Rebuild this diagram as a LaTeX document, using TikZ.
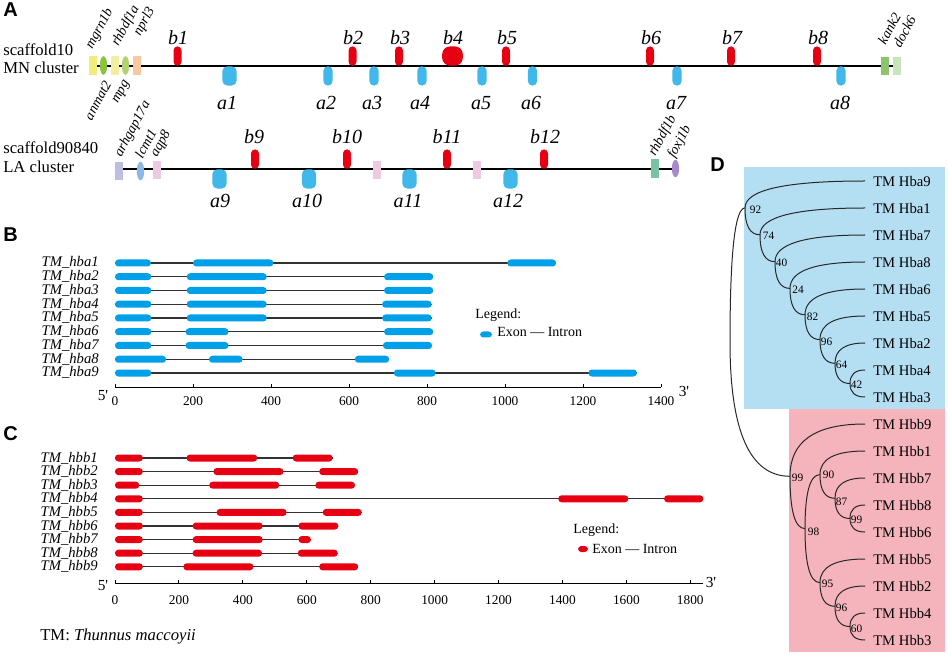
\documentclass[tikz,border=0pt]{standalone}
\usepackage{fontspec}
\setmainfont{Liberation Serif}
\newfontfamily\panelfont{Liberation Sans}
\usetikzlibrary{calc,shapes.geometric}

\definecolor{GeneRed}{RGB}{230,0,18}
\definecolor{GeneBlue}{RGB}{64,184,234}
\definecolor{ExonBlue}{RGB}{0,160,233}
\definecolor{IntronGrey}{RGB}{50,50,50}
\definecolor{TreeGrey}{RGB}{40,40,40}
\definecolor{TreeBlue}{RGB}{180,223,243}
\definecolor{TreePink}{RGB}{245,180,188}
\definecolor{MgrnCol}{RGB}{240,238,120}
\definecolor{AnmatCol}{RGB}{140,195,60}
\definecolor{RhbdfaCol}{RGB}{242,240,160}
\definecolor{MpgCol}{RGB}{180,210,110}
\definecolor{NprlCol}{RGB}{248,200,160}
\definecolor{KankCol}{RGB}{140,195,110}
\definecolor{DockCol}{RGB}{200,228,185}
\definecolor{ArhgapCol}{RGB}{190,190,225}
\definecolor{LcmtCol}{RGB}{140,185,230}
\definecolor{AqpCol}{RGB}{238,202,226}
\definecolor{RhbdfbCol}{RGB}{120,195,165}
\definecolor{FoxjCol}{RGB}{165,140,200}

\tikzset{
  scaffold/.style={draw=black, line width=0.9pt},
  redgene/.style={fill=GeneRed, draw=none, inner sep=0pt, minimum width=6pt, minimum height=14.5pt, rounded corners=3pt, anchor=south},
  bluegene/.style={fill=GeneBlue, draw=none, inner sep=0pt, minimum width=7pt, minimum height=14.5pt, rounded corners=3.4pt, anchor=north},
  widegene/.style={bluegene, minimum width=10.8pt, rounded corners=3.8pt},
  sidebox/.style={draw=none, inner sep=0pt, minimum width=6pt, minimum height=14pt},
  sideoval/.style={ellipse, draw=none, inner sep=0pt, minimum width=5.5pt, minimum height=14pt},
  genelab/.style={font=\fontsize{10.5}{11}\selectfont\itshape, rotate=62, inner sep=0.5pt},
  genename/.style={font=\fontsize{15}{15}\selectfont\itshape, inner sep=0pt, anchor=base},
  clustertext/.style={font=\fontsize{12.5}{13}\selectfont, inner sep=0pt, anchor=base west},
  panel/.style={font=\fontsize{15}{15}\panelfont\bfseries, inner sep=0pt, anchor=base west},
  rowlab/.style={font=\fontsize{11}{11}\selectfont\itshape, inner sep=0pt, anchor=base east},
  ticklab/.style={font=\fontsize{10}{10}\selectfont, inner sep=0pt, anchor=base},
  legtext/.style={font=\fontsize{10.5}{11}\selectfont, inner sep=0pt, anchor=base west},
  intron/.style={draw=IntronGrey, line width=0.8pt},
  axisline/.style={draw=black, line width=0.75pt},
  exonA/.style={fill=ExonBlue, rounded corners=2.5pt},
  exonB/.style={fill=GeneRed, rounded corners=2.5pt},
  treeline/.style={draw=TreeGrey, line width=0.75pt},
  leaf/.style={font=\fontsize{11}{11}\selectfont, anchor=west, inner xsep=6pt, inner ysep=0pt},
  boot/.style={font=\fontsize{8.5}{9}\selectfont, anchor=west, inner sep=0.5pt},
}

% curved cladogram branch: leaves parent vertically, meets child horizontally
\newcommand{\treebranch}[2]{\draw[treeline] (#1) .. controls ($(#1)!0.667!(#1 |- #2)$) and ($(#2)!0.667!(#1 |- #2)$) .. (#2);}

\begin{document}
\begin{tikzpicture}[x=0.75pt,y=0.75pt,yscale=-1,xscale=1]
\useasboundingbox (0,0) rectangle (948,655);

% ---------------- Panel A ----------------
\node[panel] (labA) at (3,17) {A};

% scaffold10
\node[clustertext] (s10name) at (3,56) {scaffold10};
\node[clustertext] (s10clus) at (3,74) {MN cluster};
\coordinate (s10start) at (89,66);
\coordinate (s10end) at (893,66);
\draw[scaffold] (s10start) -- (s10end);

% flanking genes
\node[sidebox, fill=MgrnCol] (mgrn1b) at (93,65.5) {};
\node[sideoval, fill=AnmatCol] (anmat2) at (103.5,65.5) {};
\node[sidebox, fill=RhbdfaCol] (rhbdf1a) at (114.5,65.5) {};
\node[sideoval, fill=MpgCol] (mpg) at (125.5,65.5) {};
\node[sidebox, fill=NprlCol] (nprl3) at (136.5,65.5) {};
\node[sidebox, fill=KankCol] (kank2) at (884.5,66) {};
\node[sidebox, fill=DockCol] (dock6) at (897,66) {};

% Text Node
\node[genelab, anchor=west] (mgrn1blab) at (89,49) {mgrn1b};
\node[genelab, anchor=west] (rhbdf1alab) at (115,46) {rhbdf1a};
\node[genelab, anchor=west] (nprl3lab) at (137,36) {nprl3};
\node[genelab, anchor=east] (anmat2lab) at (108,81) {anmat2};
\node[genelab, anchor=east] (mpglab) at (128,81) {mpg};
\node[genelab, anchor=west] (kank2lab) at (881,44) {kank2};
\node[genelab, anchor=west] (dock6lab) at (896,47) {dock6};

% beta genes (above)
\node[redgene] (b1) at (177.5,66) {};
\node[redgene] (b2) at (352.5,66) {};
\node[redgene] (b3) at (399,66) {};
\node[redgene, minimum width=15.5pt, rounded corners=6pt] (b4) at (452.5,66) {};
\node[redgene] (b5) at (506,66) {};
\node[redgene] (b6) at (650,66) {};
\node[redgene] (b7) at (731,66) {};
\node[redgene] (b8) at (817,66) {};
% alpha genes (below)
\node[widegene] (a1) at (229.5,66) {};
\node[bluegene] (a2) at (328,66) {};
\node[bluegene] (a3) at (374,66) {};
\node[bluegene] (a4) at (422,66) {};
\node[bluegene] (a5) at (482,66) {};
\node[bluegene] (a6) at (532.5,66) {};
\node[bluegene] (a7) at (677,66) {};
\node[bluegene] (a8) at (841,66) {};

% Text Node
\node[genename] (b1lab) at (178,45) {b1};
\node[genename] (b2lab) at (353,45) {b2};
\node[genename] (b3lab) at (400,45) {b3};
\node[genename] (b4lab) at (453,45) {b4};
\node[genename] (b5lab) at (507,45) {b5};
\node[genename] (b6lab) at (651,45) {b6};
\node[genename] (b7lab) at (732,45) {b7};
\node[genename] (b8lab) at (818,45) {b8};
\node[genename] (a1lab) at (227,110) {a1};
\node[genename] (a2lab) at (326,110) {a2};
\node[genename] (a3lab) at (372,110) {a3};
\node[genename] (a4lab) at (420,110) {a4};
\node[genename] (a5lab) at (481,110) {a5};
\node[genename] (a6lab) at (531,110) {a6};
\node[genename] (a7lab) at (676,110) {a7};
\node[genename] (a8lab) at (840,110) {a8};

% scaffold90840
\node[clustertext] (s90name) at (3,154) {scaffold90840};
\node[clustertext] (s90clus) at (3,173) {LA cluster};
\coordinate (s90start) at (117,169);
\coordinate (s90end) at (676,169);
\draw[scaffold] (s90start) -- (s90end);

\node[sidebox, fill=ArhgapCol] (arhgap17a) at (118.5,171) {};
\node[sideoval, fill=LcmtCol] (lcmt1) at (140.5,171) {};
\node[sidebox, fill=AqpCol] (aqp8) at (157,170) {};
\node[sidebox, fill=AqpCol] (pinkone) at (377,170) {};
\node[sidebox, fill=AqpCol] (pinktwo) at (477,170) {};
\node[sidebox, fill=RhbdfbCol] (rhbdf1b) at (654.5,168.5) {};
\node[sideoval, fill=FoxjCol, minimum height=13pt] (foxj1b) at (675.5,168.5) {};

% Text Node
\node[genelab, anchor=west] (arhgap17alab) at (118,157) {arhgap17a};
\node[genelab, anchor=west] (lcmt1lab) at (138,158) {lcmt1};
\node[genelab, anchor=west] (aqp8lab) at (154,157) {aqp8};
\node[genelab, anchor=west] (rhbdf1blab) at (652,156) {rhbdf1b};
\node[genelab, anchor=west] (foxj1blab) at (671,158) {foxj1b};

\node[redgene] (b9) at (255,169) {};
\node[redgene] (b10) at (347,169) {};
\node[redgene] (b11) at (447,169) {};
\node[redgene] (b12) at (544,169) {};
\node[widegene] (a9) at (219.5,169) {};
\node[widegene] (a10) at (309,169) {};
\node[widegene] (a11) at (409.5,169) {};
\node[widegene] (a12) at (510.5,169) {};

% Text Node
\node[genename] (b9lab) at (254,144) {b9};
\node[genename] (b10lab) at (347,144) {b10};
\node[genename] (b11lab) at (447,144) {b11};
\node[genename] (b12lab) at (545,144) {b12};
\node[genename] (a9lab) at (220,208) {a9};
\node[genename] (a10lab) at (307,208) {a10};
\node[genename] (a11lab) at (408,208) {a11};
\node[genename] (a12lab) at (508,208) {a12};

% ---------------- Panel B ----------------
\node[panel] (labB) at (3,242) {B};

\node[rowlab] (hba1lab) at (99,267) {TM\_hba1};
\node[rowlab] (hba2lab) at (99,280.75) {TM\_hba2};
\node[rowlab] (hba3lab) at (99,294.5) {TM\_hba3};
\node[rowlab] (hba4lab) at (99,308.25) {TM\_hba4};
\node[rowlab] (hba5lab) at (99,322) {TM\_hba5};
\node[rowlab] (hba6lab) at (99,335.75) {TM\_hba6};
\node[rowlab] (hba7lab) at (99,349.5) {TM\_hba7};
\node[rowlab] (hba8lab) at (99,363.25) {TM\_hba8};
\node[rowlab] (hba9lab) at (99,377) {TM\_hba9};

\begin{scope}[shift={(115,0)}, xscale=0.39]
  %Straight Lines: introns
  \draw[intron] (0,263) -- (1131,263);
  \draw[intron] (0,276.75) -- (816,276.75);
  \draw[intron] (0,290.5) -- (816,290.5);
  \draw[intron] (0,304.25) -- (812,304.25);
  \draw[intron] (0,318) -- (812,318);
  \draw[intron] (0,331.75) -- (816,331.75);
  \draw[intron] (0,345.5) -- (813,345.5);
  \draw[intron] (0,359.25) -- (703,359.25);
  \draw[intron] (0,373) -- (1338,373);
  %Shapes: exons
  \fill[exonA] (0,259.5) rectangle (92,266.5) (200,259.5) rectangle (406,266.5) (1006,259.5) rectangle (1131,266.5);
  \fill[exonA] (0,273.25) rectangle (93,280.25) (184,273.25) rectangle (389,280.25) (690,273.25) rectangle (816,280.25);
  \fill[exonA] (0,287) rectangle (93,294) (184,287) rectangle (389,294) (690,287) rectangle (816,294);
  \fill[exonA] (0,300.75) rectangle (93,307.75) (184,300.75) rectangle (389,307.75) (685,300.75) rectangle (812,307.75);
  \fill[exonA] (0,314.5) rectangle (93,321.5) (184,314.5) rectangle (389,321.5) (685,314.5) rectangle (812,321.5);
  \fill[exonA] (0,328.25) rectangle (93,335.25) (181,328.25) rectangle (291,335.25) (690,328.25) rectangle (816,335.25);
  \fill[exonA] (0,342) rectangle (93,349) (181,342) rectangle (291,349) (687,342) rectangle (813,349);
  \fill[exonA] (0,355.75) rectangle (131,362.75) (241,355.75) rectangle (327,362.75) (615,355.75) rectangle (703,362.75);
  \fill[exonA] (0,369.5) rectangle (93,376.5) (715,369.5) rectangle (822,376.5) (1214,369.5) rectangle (1338,376.5);
  %Axis
  \draw[axisline] (0,387) -- (1400,387) (0,387) -- (0,384) (200,387) -- (200,384) (400,387) -- (400,384) (600,387) -- (600,384) (800,387) -- (800,384) (1000,387) -- (1000,384) (1200,387) -- (1200,384) (1400,387) -- (1400,384);
  % Text Node
  \node[ticklab] (tB0) at (0,405.5) {0};
  \node[ticklab] (tB200) at (200,405.5) {200};
  \node[ticklab] (tB400) at (400,405.5) {400};
  \node[ticklab] (tB600) at (600,405.5) {600};
  \node[ticklab] (tB800) at (800,405.5) {800};
  \node[ticklab] (tB1000) at (1000,405.5) {1000};
  \node[ticklab] (tB1200) at (1200,405.5) {1200};
  \node[ticklab] (tB1400) at (1400,405.5) {1400};
\end{scope}
\node[ticklab, font=\fontsize{11.5}{12}\selectfont] (fiveB) at (103,400) {5\textquotesingle};
\node[ticklab, font=\fontsize{11.5}{12}\selectfont] (threeB) at (684,397) {3\textquotesingle};

% legend B
\node[legtext] (legB) at (475,319) {Legend:};
\fill[exonA] (480,331.5) rectangle (492,337.5);
\node[legtext] (legBkey) at (497,337) {Exon --- Intron};

% ---------------- Panel C ----------------
\node[panel] (labC) at (3,440) {C};

\node[rowlab] (hbb1lab) at (98,462) {TM\_hbb1};
\node[rowlab] (hbb2lab) at (98,475.6) {TM\_hbb2};
\node[rowlab] (hbb3lab) at (98,489.2) {TM\_hbb3};
\node[rowlab] (hbb4lab) at (98,502.8) {TM\_hbb4};
\node[rowlab] (hbb5lab) at (98,516.4) {TM\_hbb5};
\node[rowlab] (hbb6lab) at (98,530) {TM\_hbb6};
\node[rowlab] (hbb7lab) at (98,543.6) {TM\_hbb7};
\node[rowlab] (hbb8lab) at (98,557.2) {TM\_hbb8};
\node[rowlab] (hbb9lab) at (98,570.8) {TM\_hbb9};

\begin{scope}[shift={(115,0)}, xscale=0.3196]
  %Straight Lines: introns
  \draw[intron] (0,458) -- (681,458);
  \draw[intron] (0,471.6) -- (761,471.6);
  \draw[intron] (0,485.2) -- (751,485.2);
  \draw[intron] (0,498.8) -- (1841,498.8);
  \draw[intron] (0,512.4) -- (772,512.4);
  \draw[intron] (0,526) -- (699,526);
  \draw[intron] (0,539.6) -- (613,539.6);
  \draw[intron] (0,553.2) -- (697,553.2);
  \draw[intron] (0,566.8) -- (761,566.8);
  %Shapes: exons
  \fill[exonB] (0,454.5) rectangle (87,461.5) (224,454.5) rectangle (445,461.5) (556,454.5) rectangle (681,461.5);
  \fill[exonB] (0,468.1) rectangle (87,475.1) (308,468.1) rectangle (527,475.1) (639,468.1) rectangle (761,475.1);
  \fill[exonB] (0,481.7) rectangle (76,488.7) (295,481.7) rectangle (514,488.7) (627,481.7) rectangle (751,488.7);
  \fill[exonB] (0,495.3) rectangle (87,502.3) (1387,495.3) rectangle (1606,502.3) (1718,495.3) rectangle (1841,502.3);
  \fill[exonB] (0,508.9) rectangle (87,515.9) (318,508.9) rectangle (537,515.9) (650,508.9) rectangle (772,515.9);
  \fill[exonB] (0,522.5) rectangle (87,529.5) (243,522.5) rectangle (462,529.5) (574,522.5) rectangle (699,529.5);
  \fill[exonB] (0,536.1) rectangle (87,543.1) (243,536.1) rectangle (462,543.1) (574,536.1) rectangle (613,543.1);
  \fill[exonB] (0,549.7) rectangle (87,556.7) (243,549.7) rectangle (460,556.7) (572,549.7) rectangle (697,556.7);
  \fill[exonB] (0,563.3) rectangle (87,570.3) (214,563.3) rectangle (433,570.3) (639,563.3) rectangle (761,570.3);
  %Axis
  \draw[axisline] (0,583) -- (1840,583) (0,583) -- (0,580) (200,583) -- (200,580) (400,583) -- (400,580) (600,583) -- (600,580) (800,583) -- (800,580) (1000,583) -- (1000,580) (1200,583) -- (1200,580) (1400,583) -- (1400,580) (1600,583) -- (1600,580) (1800,583) -- (1800,580);
  % Text Node
  \node[ticklab] (tC0) at (0,604) {0};
  \node[ticklab] (tC200) at (200,604) {200};
  \node[ticklab] (tC400) at (400,604) {400};
  \node[ticklab] (tC600) at (600,604) {600};
  \node[ticklab] (tC800) at (800,604) {800};
  \node[ticklab] (tC1000) at (1000,604) {1000};
  \node[ticklab] (tC1200) at (1200,604) {1200};
  \node[ticklab] (tC1400) at (1400,604) {1400};
  \node[ticklab] (tC1600) at (1600,604) {1600};
  \node[ticklab] (tC1800) at (1800,604) {1800};
\end{scope}
\node[ticklab, font=\fontsize{11.5}{12}\selectfont] (fiveC) at (103,590) {5\textquotesingle};
\node[ticklab, font=\fontsize{11.5}{12}\selectfont] (threeC) at (711,587) {3\textquotesingle};

% legend C
\node[legtext] (legC) at (573,533) {Legend:};
\fill[exonB] (578,546) rectangle (588,552);
\node[legtext] (legCkey) at (592,553) {Exon --- Intron};

% species note
\node[clustertext] (species) at (40,640) {TM: \textit{Thunnus maccoyii}};

% ---------------- Panel D ----------------
\node[panel] (labD) at (710,172) {D};
\fill[TreeBlue] (744,167) rectangle (945,409);
\fill[TreePink] (789,409) rectangle (945,652);

% leaves
\node[leaf] (hba9) at (865,181) {TM Hba9};
\node[leaf] (hba1) at (865,208) {TM Hba1};
\node[leaf] (hba7) at (865,235) {TM Hba7};
\node[leaf] (hba8) at (865,262) {TM Hba8};
\node[leaf] (hba6) at (865,289) {TM Hba6};
\node[leaf] (hba5) at (865,316) {TM Hba5};
\node[leaf] (hba2) at (865,343) {TM Hba2};
\node[leaf] (hba4) at (865,370) {TM Hba4};
\node[leaf] (hba3) at (865,397) {TM Hba3};
\node[leaf] (hbb9) at (865,424) {TM Hbb9};
\node[leaf] (hbb1) at (865,451) {TM Hbb1};
\node[leaf] (hbb7) at (865,478) {TM Hbb7};
\node[leaf] (hbb8) at (865,505) {TM Hbb8};
\node[leaf] (hbb6) at (865,532) {TM Hbb6};
\node[leaf] (hbb5) at (865,559) {TM Hbb5};
\node[leaf] (hbb2) at (865,586) {TM Hbb2};
\node[leaf] (hbb4) at (865,613) {TM Hbb4};
\node[leaf] (hbb3) at (865,640) {TM Hbb3};

% internal nodes
\coordinate (root) at (730,342);
\coordinate (n92) at (745,207.9);
\coordinate (n74) at (760,234.8);
\coordinate (n40) at (775,261.7);
\coordinate (n24) at (790,288.4);
\coordinate (n82) at (805,314.8);
\coordinate (n96) at (820,339.6);
\coordinate (n64) at (835,363.3);
\coordinate (n42) at (850,383.5);
\coordinate (m99) at (790,476.3);
\coordinate (m98) at (805,528.6);
\coordinate (m90) at (820,474.6);
\coordinate (m87) at (835,498.3);
\coordinate (m99b) at (850,518.5);
\coordinate (m95) at (820,582.6);
\coordinate (m96) at (835,606.3);
\coordinate (m60) at (850,626.5);

% branches
\treebranch{root}{n92}
\treebranch{root}{m99}
\treebranch{n92}{hba9.west}
\treebranch{n92}{n74}
\treebranch{n74}{hba1.west}
\treebranch{n74}{n40}
\treebranch{n40}{hba7.west}
\treebranch{n40}{n24}
\treebranch{n24}{hba8.west}
\treebranch{n24}{n82}
\treebranch{n82}{hba6.west}
\treebranch{n82}{n96}
\treebranch{n96}{hba5.west}
\treebranch{n96}{n64}
\treebranch{n64}{hba2.west}
\treebranch{n64}{n42}
\treebranch{n42}{hba4.west}
\treebranch{n42}{hba3.west}
\treebranch{m99}{hbb9.west}
\treebranch{m99}{m98}
\treebranch{m98}{m90}
\treebranch{m98}{m95}
\treebranch{m90}{hbb1.west}
\treebranch{m90}{m87}
\treebranch{m87}{hbb7.west}
\treebranch{m87}{m99b}
\treebranch{m99b}{hbb8.west}
\treebranch{m99b}{hbb6.west}
\treebranch{m95}{hbb5.west}
\treebranch{m95}{m96}
\treebranch{m96}{hbb2.west}
\treebranch{m96}{m60}
\treebranch{m60}{hbb4.west}
\treebranch{m60}{hbb3.west}

% bootstrap values
\node[boot] (bs92) at ($(n92)+(4,1.5)$) {92};
\node[boot] (bs74) at ($(n74)+(2,1)$) {74};
\node[boot] (bs40) at ($(n40)+(0,1.5)$) {40};
\node[boot] (bs24) at ($(n24)+(1.5,1.5)$) {24};
\node[boot] (bs82) at ($(n82)+(1,2)$) {82};
\node[boot] (bs96) at ($(n96)+(0,2)$) {96};
\node[boot] (bs64) at ($(n64)+(0,2)$) {64};
\node[boot] (bs42) at ($(n42)+(0,1)$) {42};
\node[boot] (bsm99) at ($(m99)+(1,2)$) {99};
\node[boot] (bsm98) at ($(m98)+(2,3)$) {98};
\node[boot] (bsm90) at ($(m90)+(2,0)$) {90};
\node[boot] (bsm87) at ($(m87)+(0,3)$) {87};
\node[boot] (bsm99b) at ($(m99b)+(0,1)$) {99};
\node[boot] (bsm95) at ($(m95)+(1,1)$) {95};
\node[boot] (bsm96) at ($(m96)+(0,1.5)$) {96};
\node[boot] (bsm60) at ($(m60)+(0,2)$) {60};

\end{tikzpicture}
\end{document}
